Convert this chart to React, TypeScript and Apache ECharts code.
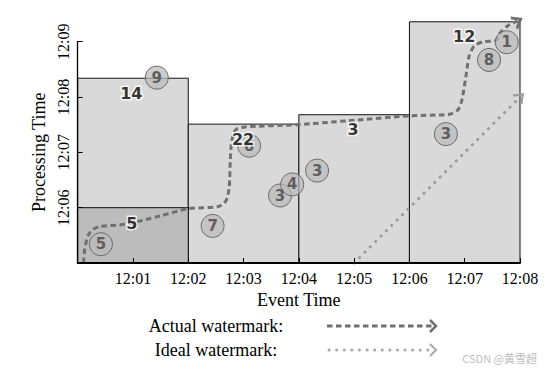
import React, { useEffect, useRef } from 'react';
import * as echarts from 'echarts';

// x: minutes after 12:00 (event time); y: minutes after 12:05 (processing time)
const xTickLabels = ['12:00', '12:01', '12:02', '12:03', '12:04', '12:05', '12:06', '12:07', '12:08'];
const yTickLabels = ['12:05', '12:06', '12:07', '12:08', '12:09'];

// Windows (panes)
const paneStart = [0, 2, 4, 6];
const paneEnd = [2, 4, 6, 8];
const paneTop = [3.34, 2.51, 2.68, 4.36];
// early (speculative) pane
const earlyStart = 0;
const earlyEnd = 2;
const earlyTop = 1.0;

// Window results
const windowSums = [14, 5, 22, 3, 12];
const sumX = [0.97, 0.98, 2.99, 4.98, 6.99];
const sumY = [3.06, 0.72, 2.24, 2.42, 4.09];

// Input data points
const pointValues = [9, 5, 7, 6, 3, 4, 3, 3, 8, 1];
const pointEvent = [1.43, 0.42, 2.44, 3.1, 3.66, 3.88, 4.33, 6.66, 7.44, 7.76];
const pointProc = [3.35, 0.34, 0.67, 2.12, 1.22, 1.42, 1.67, 2.33, 3.67, 3.99];

// Actual watermark
const actualEvent = [0.105, 0.13, 0.195, 0.28, 0.4, 0.86, 1.49, 1.99, 2.54, 2.68, 2.74, 2.76, 2.79, 2.86, 3.03, 3.98, 4.87, 6.01, 6.73, 6.88, 6.95, 7.02, 7.08, 7.17, 7.33, 7.56, 7.64, 7.78, 7.95];
const actualProc = [0, 0.27, 0.51, 0.61, 0.66, 0.7, 0.85, 0.98, 1.02, 1.12, 1.36, 1.86, 2.22, 2.41, 2.46, 2.5, 2.57, 2.66, 2.69, 2.77, 2.95, 3.36, 3.74, 3.92, 4.0, 4.02, 4.16, 4.29, 4.37];

// Ideal watermark
const idealEvent = [5, 8];
const idealProc = [0, 3];

const SERIF = "'Liberation Serif', 'DejaVu Serif', serif";
const SANS = "'DejaVu Sans', sans-serif";
const chevron = 'path://M0,0 L6,5 L0,10';

export default function App() {
  const ref = useRef<HTMLDivElement>(null);
  useEffect(() => {
    if (!ref.current) return;
    const chart = echarts.init(ref.current, null, { renderer: 'svg' });

    const paneData = paneStart.map((s, i) => [s, paneEnd[i], 0, paneTop[i], 0]);
    paneData.push([earlyStart, earlyEnd, 0, earlyTop, 1]);

    const actualData = actualEvent.map((x, i) => [x, actualProc[i]]);
    const idealData = idealEvent.map((x, i) => [x, idealProc[i]]);
    const lastA = actualData.length - 1;

    const option: any = {
      animation: false,
      backgroundColor: '#fff',
      grid: { left: 77.7, right: 40, top: 41.7, bottom: 107, containLabel: false, outerBoundsMode: 'none' },
      xAxis: {
        type: 'value', min: 0, max: 8, interval: 1, z: 10,
        axisLine: { show: true, lineStyle: { color: '#000', width: 2 } },
        axisTick: { show: true, inside: true, length: 5, lineStyle: { color: '#000', width: 1 } },
        splitLine: { show: false },
        axisLabel: {
          formatter: (v: number) => (v === 0 ? '' : xTickLabels[Math.round(v)]),
          fontFamily: SERIF, fontSize: 16, color: '#000', margin: 7,
        },
        name: 'Event Time', nameLocation: 'middle', nameGap: 28,
        nameTextStyle: { fontFamily: SERIF, fontSize: 18, color: '#000' },
      },
      yAxis: {
        type: 'value', min: 0, max: 4, interval: 1, z: 10,
        axisLine: { show: true, lineStyle: { color: '#000', width: 1.3 } },
        axisTick: { show: true, inside: true, length: 5, lineStyle: { color: '#000', width: 1 } },
        splitLine: { show: false },
        axisLabel: {
          rotate: 90,
          formatter: (v: number) => (v === 0 ? '' : yTickLabels[Math.round(v)]),
          fontFamily: SERIF, fontSize: 16, color: '#000', margin: 6,
        },
        name: 'Processing Time', nameLocation: 'middle', nameRotate: 90, nameGap: 29,
        nameTextStyle: { fontFamily: SERIF, fontSize: 18, color: '#000' },
      },
      series: [
        {
          type: 'custom', clip: false, z: 1,
          encode: { x: [0, 1], y: [2, 3] },
          data: paneData,
          renderItem: (params: any, api: any) => {
            const p0 = api.coord([api.value(0), api.value(3)]);
            const p1 = api.coord([api.value(1), api.value(2)]);
            const dark = api.value(4) === 1;
            return {
              type: 'rect',
              shape: { x: p0[0], y: p0[1], width: p1[0] - p0[0], height: p1[1] - p0[1] },
              style: { fill: dark ? '#bcbcbc' : '#d9d9d9', stroke: '#111', lineWidth: 1 },
            };
          },
        },
        {
          type: 'line', clip: false, z: 3, smooth: 0.25,
          data: actualData.map((d, i) =>
            i === lastA
              ? { value: d, symbol: chevron, symbolSize: [8, 12], symbolRotate: 30, itemStyle: { color: 'transparent', borderColor: '#707070', borderWidth: 2.5 } }
              : { value: d, symbol: 'none' }
          ),
          showSymbol: true,
          lineStyle: { color: '#707070', width: 3, type: [5.5, 3.5] },
        },
        {
          type: 'line', clip: false, z: 3,
          data: idealData.map((d, i) =>
            i === idealData.length - 1
              ? { value: d, symbol: chevron, symbolSize: [8, 12], symbolRotate: 45, itemStyle: { color: 'transparent', borderColor: '#a0a0a0', borderWidth: 2 } }
              : { value: d, symbol: 'none' }
          ),
          showSymbol: true,
          lineStyle: { color: '#9c9c9c', width: 3, type: [0.1, 7.5], cap: 'round' },
        },
        {
          type: 'scatter', clip: false, z: 4,
          symbolSize: 23,
          data: pointEvent.map((x, i) => [x, pointProc[i], pointValues[i]]),
          itemStyle: { color: 'rgba(185,185,185,0.7)', borderColor: '#6a6a6a', borderWidth: 1, opacity: 1 },
          label: {
            show: true, position: 'inside',
            formatter: (p: any) => String(p.value[2]),
            fontFamily: SANS, fontWeight: 'bold', fontSize: 15, color: '#5e5e5e',
          },
        },
        {
          type: 'scatter', clip: false, z: 6,
          symbolSize: 1,
          data: sumX.map((x, i) => [x, sumY[i], windowSums[i]]),
          itemStyle: { color: 'transparent' },
          label: {
            show: true, position: 'inside',
            formatter: (p: any) => String(p.value[2]),
            fontFamily: SANS, fontWeight: 'bold', fontSize: 16, color: '#000',
            textBorderColor: '#fff', textBorderWidth: 3,
          },
        },
      ],
      graphic: [
        { type: 'text', x: 216, y: 326, style: { text: 'Actual watermark:', fontFamily: SERIF, fontSize: 18, fill: '#000', textAlign: 'center', textVerticalAlign: 'middle' } },
        { type: 'line', shape: { x1: 327, y1: 326, x2: 433, y2: 326 }, style: { stroke: '#707070', lineWidth: 3, lineDash: [5.5, 3.5] } },
        { type: 'polyline', shape: { points: [[430, 320], [436, 326], [430, 332]] }, style: { stroke: '#707070', lineWidth: 2.5, fill: 'none' } },
        { type: 'text', x: 216, y: 350, style: { text: 'Ideal watermark:', fontFamily: SERIF, fontSize: 18, fill: '#000', textAlign: 'center', textVerticalAlign: 'middle' } },
        { type: 'line', shape: { x1: 329, y1: 350, x2: 432, y2: 350 }, style: { stroke: '#a8a8a8', lineWidth: 3, lineDash: [0.1, 7.5], lineCap: 'round' } },
        { type: 'polyline', shape: { points: [[430, 344], [436, 350], [430, 356]] }, style: { stroke: '#a8a8a8', lineWidth: 2, fill: 'none' } },
        { type: 'text', x: 537, y: 358, style: { text: 'CSDN @黄雪超', fontFamily: "'Noto Sans CJK SC', sans-serif", fontSize: 11, fill: '#bdbdbd', textAlign: 'right', textVerticalAlign: 'middle' } },
      ],
    };
    chart.setOption(option);
    return () => chart.dispose();
  }, []);
  return <div ref={ref} style={{ position: 'fixed', left: 0, top: 0, width: 560, height: 370 }} />;
}
